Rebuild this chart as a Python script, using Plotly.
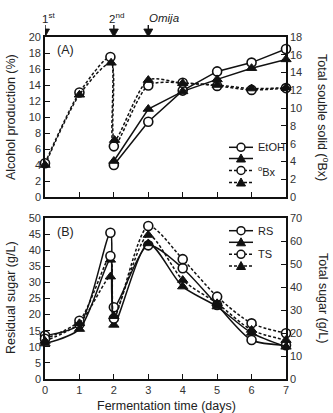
import plotly.graph_objects as go

# ---------------- data ----------------
days_a = [0, 1, 1.9, 2, 3, 4, 5, 6, 7]
days_a_tri = [0, 1, 1.92, 2.02, 3, 4, 5, 6, 7]
days_etoh = [2, 3, 4, 5, 6, 7]
etoh_circle = [4.0, 9.4, 13.3, 15.7, 16.8, 18.5]
etoh_tri = [4.5, 11.0, 13.2, 14.7, 16.1, 17.2]
bx_circle = [3.8, 11.75, 15.75, 5.7, 12.55, 12.85, 12.5, 12.05, 12.25]
bx_tri = [3.6, 11.5, 15.1, 6.4, 13.15, 12.8, 12.6, 12.2, 12.3]

days_b = [0, 1, 1.9, 2, 3, 4, 5, 6, 7]
rs_circle = [13.5, 17.0, 45.4, 22.3, 41.5, 34.4, 23.0, 12.1, 10.5]
rs_tri = [11.0, 15.5, 37.0, 16.8, 42.1, 28.7, 22.5, 14.3, 10.0]
ts_circle = [17.5, 25.3, 53.5, 26.3, 66.5, 52.1, 35.8, 24.2, 19.9]
ts_tri = [16.5, 24.2, 44.5, 27.3, 62.6, 43.0, 32.9, 21.3, 16.9]

addition_days = [0, 2, 3]
addition_labels = ["1<sup>st</sup>", "2<sup>nd</sup>", "<i>Omija</i>"]

legend_a = ["EtOH", "", "<sup>o</sup>Bx", ""]
legend_b = ["RS", "", "TS", ""]

# ---------------- geometry (pixels) ----------------
W, H = 333, 413
L, R, T, B = 45, 286, 37, 379
PW, PH = R - L, B - T


def px(xp):
    return (xp - L) / PW


def py(yp):
    return (B - yp) / PH


FONT = "Arial, Liberation Sans, sans-serif"
BLACK = "#111"
TICKC = "#333"
dom_a = [py(197), 1.0]
dom_b = [0.0, py(218)]

circ = dict(symbol="circle", size=9, color="white", line=dict(color=BLACK, width=1.6))
tri = dict(symbol="triangle-up", size=9, color=BLACK, line=dict(color=BLACK, width=1))
DASH = "3px,2px"

fig = go.Figure()


def add(x, y, xa, ya, marker, dash, shape, smooth=0.8):
    line = dict(color=BLACK, width=1.5, dash=dash, shape=shape)
    if shape == "spline":
        line["smoothing"] = smooth
    fig.add_trace(go.Scatter(x=x, y=y, xaxis=xa, yaxis=ya, mode="lines+markers",
                             marker=marker, line=line, showlegend=False, cliponaxis=False))


# Panel A
add(days_a, bx_circle, "x", "y2", circ, DASH, "spline", 0.75)
add(days_a_tri, bx_tri, "x", "y2", tri, DASH, "spline", 0.75)
add(days_etoh, etoh_circle, "x", "y", circ, "solid", "linear")
add(days_etoh, etoh_tri, "x", "y", tri, "solid", "linear")

# Panel B
add(days_b, ts_circle, "x2", "y4", circ, DASH, "spline", 0.75)
add(days_b, ts_tri, "x2", "y4", tri, DASH, "spline", 0.75)
add(days_b, rs_circle, "x2", "y3", circ, "solid", "spline", 0.75)
add(days_b, rs_tri, "x2", "y3", tri, "solid", "spline", 0.75)

tickfont = dict(family=FONT, size=11, color=TICKC)
axis_common = dict(showgrid=False, zeroline=False, showline=True, linecolor=BLACK, linewidth=1.6,
                   ticks="inside", ticklen=5, tickwidth=1.2, tickcolor=BLACK, tickfont=tickfont)

fig.update_layout(
    width=W, height=H,
    margin=dict(l=L, r=W - R, t=T, b=H - B, autoexpand=False),
    paper_bgcolor="white", plot_bgcolor="white",
    xaxis=dict(domain=[0, 1], range=[0, 7], dtick=1, anchor="y", mirror=True,
               showticklabels=False, **axis_common),
    yaxis=dict(domain=dom_a, range=[0, 20], dtick=2, anchor="x", **axis_common),
    yaxis2=dict(range=[0, 18], dtick=2, overlaying="y", side="right", anchor="x", **axis_common),
    xaxis2=dict(domain=[0, 1], range=[0, 7], dtick=1, anchor="y3", mirror=True, **axis_common),
    yaxis3=dict(domain=dom_b, range=[0, 50], dtick=5, anchor="x2", **axis_common),
    yaxis4=dict(range=[0, 70], dtick=10, overlaying="y3", side="right", anchor="x2", **axis_common),
)

ann = []
shapes = []
titlefont = dict(family=FONT, size=12.5, color="#222")
# axis titles
ann.append(dict(text="Alcohol production (%)", x=px(11), y=py(117), textangle=-90, font=titlefont))
ann.append(dict(text="Total souble solid (<sup>o</sup>Bx)", x=px(323), y=py(117), textangle=90, font=titlefont))
ann.append(dict(text="Residual sugar (g/L)", x=px(11), y=py(298), textangle=-90, font=titlefont))
ann.append(dict(text="Total sugar (g/L)", x=px(323), y=py(298), textangle=90, font=titlefont))
ann.append(dict(text="Fermentation time (days)", x=px(166), y=py(406), font=titlefont))
# panel labels
ann.append(dict(text="(A)", x=px(55), y=py(50), xanchor="left", font=dict(family=FONT, size=12.5, color="#222")))
ann.append(dict(text="(B)", x=px(55), y=py(232), xanchor="left", font=dict(family=FONT, size=12.5, color="#222")))
for a in ann:
    a.update(xref="paper", yref="paper", showarrow=False)
    a.setdefault("xanchor", "center")
    a.setdefault("yanchor", "middle")

# addition arrows (shapes) + labels
for d, lab in zip(addition_days, addition_labels):
    shapes.append(dict(type="line", xref="x", yref="paper", x0=d, x1=d, y0=py(32), y1=py(25),
                       line=dict(color=BLACK, width=1.4)))
    shapes.append(dict(type="path", xref="x", yref="paper", xsizemode="pixel", ysizemode="pixel",
                       xanchor=d, yanchor=py(37), path="M-4.5,8 L4.5,8 L0,0 Z",
                       fillcolor=BLACK, line=dict(color=BLACK, width=0.8)))
    is_omija = "Omija" in lab
    ann.append(dict(x=d, y=py(18), xref="x", yref="paper", text=lab, showarrow=False,
                    xanchor="left" if is_omija else "center", yanchor="middle",
                    xshift=-1 if is_omija else 3,
                    font=dict(family=FONT, size=11.5, color="#222")))


# custom legends
def legend(rows_y, labels):
    styles = [("solid", "c"), ("solid", "t"), ("dash", "c"), ("dash", "t")]
    for yy, lab, (ls, mk) in zip(rows_y, labels, styles):
        shapes.append(dict(type="line", xref="paper", yref="paper", x0=px(229), x1=px(253),
                           y0=py(yy), y1=py(yy),
                           line=dict(color=BLACK, width=1.5, dash="solid" if ls == "solid" else DASH)))
        if mk == "c":
            shapes.append(dict(type="circle", xref="paper", yref="paper", xsizemode="pixel",
                               ysizemode="pixel", xanchor=px(241), yanchor=py(yy),
                               x0=-4, x1=4, y0=-4, y1=4, fillcolor="white",
                               line=dict(color=BLACK, width=1.5)))
        else:
            shapes.append(dict(type="path", xref="paper", yref="paper", xsizemode="pixel",
                               ysizemode="pixel", xanchor=px(241), yanchor=py(yy),
                               path="M-4.5,-3.5 L4.5,-3.5 L0,4.5 Z", fillcolor=BLACK,
                               line=dict(color=BLACK, width=1)))
        if lab:
            ann.append(dict(text=lab, x=px(256), y=py(yy), xref="paper", yref="paper",
                            xanchor="left", yanchor="middle", showarrow=False,
                            font=dict(family=FONT, size=11, color="#222")))


legend([147.3, 158.5, 170.5, 182.5], legend_a)
legend([230.7, 242.3, 254.3, 266.0], legend_b)

fig.update_layout(annotations=ann, shapes=shapes)
fig.write_html("out.html")
